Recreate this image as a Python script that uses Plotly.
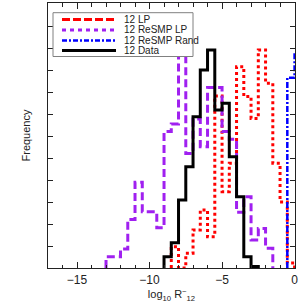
import plotly.graph_objects as go

# ---------------- data ----------------
bin_width = 0.5

lp_start = -8.5
lp_vals = [0.97, 0.0, 0.67, 1.73, 2.64, 1.42, 7.82, 3.47, 4.76, 9.15,
           7.79, 6.80, 9.91, 8.40, 4.76, 3.00, 0.23]

resmp_lp_start = -13.0
resmp_lp_vals = [0.51, 0.51, 0.86, 2.21, 3.90, 2.56, 2.56, 1.83, 6.20, 6.55,
                 10.5, 5.21, 6.77, 5.51, 8.21, 8.21, 6.20, 5.85, 2.53, 3.24,
                 1.27, 1.80, 0.90]

resmp_rand_start = -0.5
resmp_rand_vals = [8.65, 9.77]

data_start = -9.0
data_vals = [0.51, 1.15, 3.09, 4.60, 6.88, 9.00, 9.91, 7.18, 7.49, 5.06,
             3.24, 0.51, 0.07]

legend_labels = ["12 LP", "12 ReSMP LP", "12 ReSMP Rand", "12 Data"]
x_tickvals = [-15, -10, -5, 0]
x_ticktext = ["\u221215", "\u221210", "\u22125", "0"]

# ---------------- helpers ----------------
def step_outline(start, vals):
    n = len(vals)
    edges = [start + i * bin_width for i in range(n + 1)]
    x = [edges[0]] + edges[:n] + [edges[n]]
    y = [0] + list(vals) + [0]
    return x, y

W, H = 301, 303
L, R, T, B = 48, 6, 3, 35
PW, PH = W - L - R, H - T - B

def pxx(px):
    return (px - L) / PW

def pxy(py):
    return (H - B - py) / PH

RED = "#ff0000"
PURPLE = "#a020f0"
BLUE = "#0000ff"
BLACK = "#000000"

fig = go.Figure()

series = [
    (lp_start, lp_vals, RED, "3px,3px", 3),
    (resmp_lp_start, resmp_lp_vals, PURPLE, "8px,4px", 3),
    (resmp_rand_start, resmp_rand_vals, BLUE, "6px,2px,2px,2px", 2.5),
    (data_start, data_vals, BLACK, "solid", 3),
]
for (start, vals, col, dash, w), name in zip(series, legend_labels):
    x, y = step_outline(start, vals)
    fig.add_trace(go.Scatter(x=x, y=y, mode="lines", name=name,
                             line=dict(color=col, dash=dash, width=w, shape="hv"),
                             showlegend=False, hoverinfo="skip"))

# ---------------- legend (drawn like the reference's) ----------------
shapes = []
annotations = []
shapes.append(dict(type="rect", xref="paper", yref="paper",
                   x0=pxx(53), x1=pxx(193), y0=pxy(56.5), y1=pxy(12.7),
                   fillcolor="white", line=dict(color="#808080", width=1),
                   layer="above"))
legend_styles = [
    (RED, "8px,3px", 3),
    (PURPLE, "4px,4px", 3),
    (BLUE, "5px,2px,2px,2px", 2.5),
    (BLACK, "solid", 3),
]
rows = [19.5, 30.0, 40.5, 50.5]
for (col, dash, w), ry, lab in zip(legend_styles, rows, legend_labels):
    shapes.append(dict(type="line", xref="paper", yref="paper",
                       x0=pxx(62), x1=pxx(116), y0=pxy(ry), y1=pxy(ry),
                       line=dict(color=col, dash=dash, width=w), layer="above"))
    annotations.append(dict(xref="paper", yref="paper", x=pxx(122), y=pxy(ry),
                            text=lab, showarrow=False, xanchor="left",
                            yanchor="middle",
                            font=dict(size=10, color="#222222",
                                      family="Liberation Sans")))

fig.update_layout(
    width=W, height=H,
    margin=dict(l=L, r=R, t=T, b=B),
    paper_bgcolor="white", plot_bgcolor="white",
    font=dict(family="Liberation Sans", size=12, color="#222222"),
    shapes=shapes, annotations=annotations,
    showlegend=False,
)
fig.update_xaxes(
    range=[-17, 0.03], tickvals=x_tickvals, ticktext=x_ticktext,
    ticks="inside", ticklen=6, tickwidth=1, tickcolor="#222222",
    minor=dict(dtick=1, ticks="inside", ticklen=3.5, tickcolor="#222222", tickwidth=1),
    showline=True, linecolor="#222222", linewidth=1.2, mirror="ticks",
    showgrid=False, zeroline=False,
    tickfont=dict(size=12),
    title=dict(text="log<sub>10</sub> R<sup>~</sup><sub>12</sub>", font=dict(size=11), standoff=2),
)
fig.update_yaxes(
    range=[0, PH / 22.0], dtick=1, tick0=0, showticklabels=False,
    ticks="inside", ticklen=5, tickwidth=1, tickcolor="#222222",
    showline=True, linecolor="#222222", linewidth=1.2, mirror="ticks",
    showgrid=False, zeroline=False,
    title=dict(text="Frequency", font=dict(size=11), standoff=14),
)

fig.write_html("out.html",
               config={"displayModeBar": False, "staticPlot": True},
               post_script="document.body.style.margin='0';document.body.style.padding='0';")
